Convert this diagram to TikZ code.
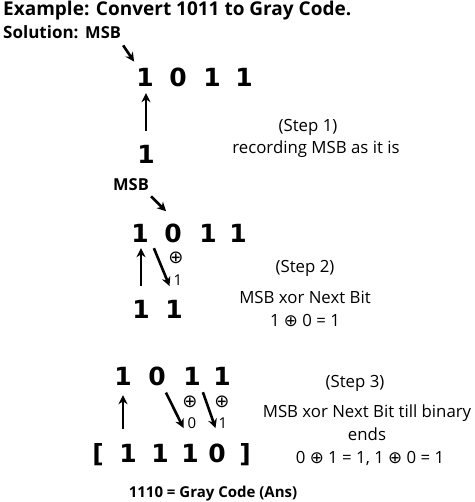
\documentclass[tikz,border=0pt]{standalone}
\usepackage{fontspec}
\setmainfont{Open Sans}
\newfontfamily\symfont{DejaVu Sans}
\usetikzlibrary{arrows.meta,positioning}

\begin{document}
\begin{tikzpicture}[
  x=1pt, y=-1pt, >={Stealth[length=9pt,width=9pt]},
  head/.style={font=\fontsize{17}{20}\selectfont\bfseries, anchor=base west, inner sep=0pt},
  bit/.style={font=\symfont\fontsize{25}{30}\selectfont\bfseries, anchor=base, inner sep=0pt},
  note/.style={font=\fontsize{16.8}{19}\selectfont, anchor=base, inner sep=0pt},
  tiny/.style={font=\fontsize{15}{16}\selectfont, inner sep=0pt},
  xor/.style={font=\symfont\fontsize{18}{18}\selectfont, inner sep=0pt},
  arr/.style={->, line width=2.6pt}
]
\useasboundingbox (0,0) rectangle (474,502);
% heading
\node[head, font=\fontsize{19}{22}\selectfont\bfseries] (ex) at (3,16) {Example: Convert 1011 to Gray Code.};
\node[head] (sol) at (3,39) {Solution:};
\node[head, font=\fontsize{16.5}{20}\selectfont\bfseries] (msba) at (85,39) {MSB};
% step 1
\node[bit] (a1) at (145,87) {1};
\node[bit] (a2) at (178,87) {0};
\node[bit] (a3) at (212,87) {1};
\node[bit] (a4) at (244,87) {1};
\node[bit] (r1) at (146,164) {1};
\node[note] (st1) at (308,132) {(Step 1)};
\node[note] (tx1) at (316,154) {recording MSB as it is};
\draw[arr] ([shift={(2,6)}]msba.south east) -- ([shift={(-2,-7)}]a1.north west);
\draw[arr, shorten <=15pt, shorten >=6pt] (r1.north) -- (r1.north |- a1.south);
% step 2
\node[head, anchor=base, font=\fontsize{16.5}{20}\selectfont\bfseries] (msbb) at (131,191) {MSB};
\node[bit] (b1) at (140,242) {1};
\node[bit] (b2) at (173,242) {0};
\node[bit] (b3) at (208,242) {1};
\node[bit] (b4) at (238,242) {1};
\node[bit] (c1) at (141,318) {1};
\node[bit] (c2) at (174,318) {1};
\node[xor] (op2) at (176,258) {⊕};
\node[tiny] (k2)  at (178,280) {1};
\node[note] (st2) at (305,272) {(Step 2)};
\node[note] (tx2) at (305,303) {MSB xor Next Bit};
\node[note] (eq2) at (305,326) {1 {\symfont ⊕} 0 = 1};
\draw[arr] ([shift={(2,5)}]msbb.south east) -- ([shift={(2,-12)}]b2.north west);
\draw[arr, shorten <=14pt, shorten >=6pt] (c1.north) -- (c1.north |- b1.south);
\draw[arr] ([shift={(5,6)}]b1.south east) -- ([shift={(-4,6)}]k2.west);
% step 3
\node[bit] (d1) at (123,385) {1};
\node[bit] (d2) at (157,385) {0};
\node[bit] (d3) at (192,385) {1};
\node[bit] (d4) at (222,385) {1};
\node[bit] (lb) at (98,462) {[};
\node[bit] (e1) at (128,462) {1};
\node[bit] (e2) at (160,462) {1};
\node[bit] (e3) at (190,462) {1};
\node[bit] (e4) at (217,462) {0};
\node[bit] (rb) at (245,462) {]};
\node[xor] (op3a) at (190,402) {⊕};
\node[tiny] (k3a)  at (192,423) {0};
\node[xor] (op3b) at (222,402) {⊕};
\node[tiny] (k3b)  at (223,423) {1};
\node[note] (st3) at (355,387) {(Step 3)};
\node[note] (tx3) at (367,417) {MSB xor Next Bit till binary};
\node[note] (tx3b) at (367,440) {ends};
\node[note] (eq3) at (370,463) {0 {\symfont ⊕} 1 = 1, 1 {\symfont ⊕} 0 = 1};
\draw[arr, shorten <=15pt, shorten >=10pt] (d1.south |- e1.north) -- (d1.south);
\draw[arr] ([shift={(0,7)}]d2.south east) -- ([shift={(-4,5)}]k3a.west);
\draw[arr] ([shift={(2,7)}]d3.south east) -- ([shift={(-3,5)}]k3b.west);
% answer
\node[head, anchor=base, font=\fontsize{15}{18}\selectfont\bfseries] (ans) at (213,497) {1110 = Gray Code (Ans)};
\end{tikzpicture}
\end{document}
